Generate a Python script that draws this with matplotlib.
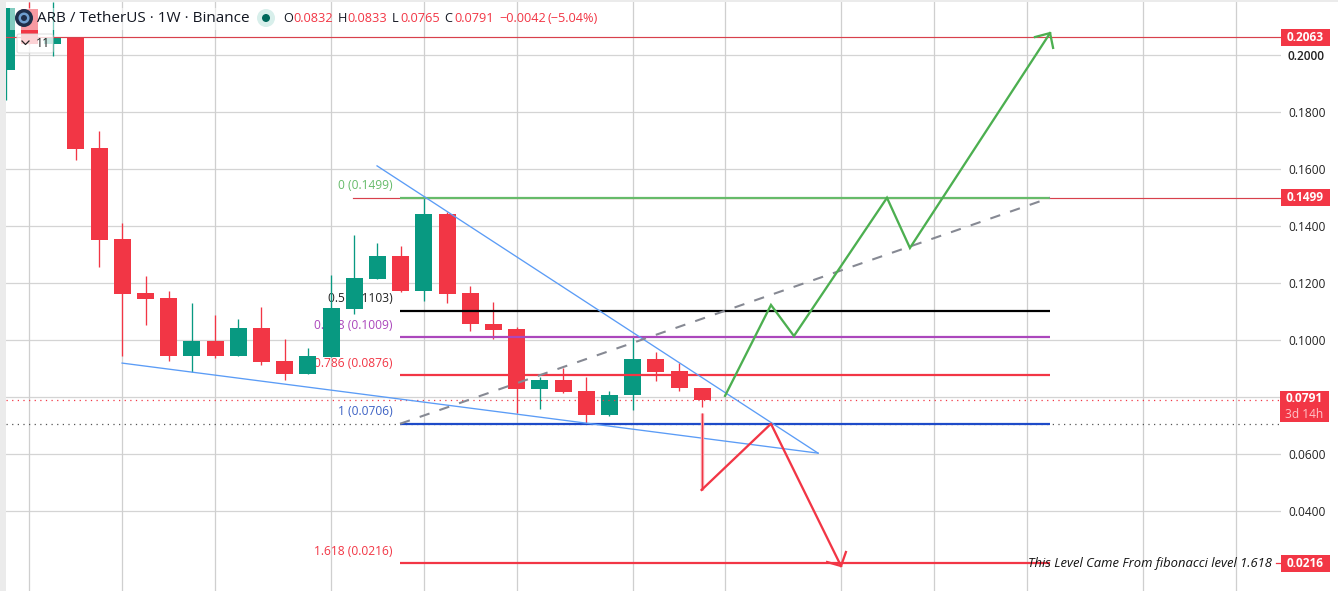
import matplotlib
matplotlib.use("Agg")
import matplotlib.pyplot as plt
from matplotlib.patches import Rectangle, Circle, FancyBboxPatch

plt.rcParams['font.family'] = ['Open Sans', 'DejaVu Sans']

# weekly candles
opens = [.1947, .2161, .2039, .2063, .1674, .1354, .1165, .1147, .0944, .0996, .0944,
         .1042, .0926, .0881, .0940, .1109, .1214, .1295, .1172, .1442, .1165, .1057,
         .1039, .0828, .0860, .0821, .0737, .0807, .0933, .0891, .0832]
highs = [.2165, .2186, .2186, .2063, .1733, .1411, .1225, .1172, .1130, .1088, .1074,
         .1116, .1004, .0972, .1228, .1368, .1340, .1330, .1505, .1449, .1189, .1133,
         .1046, .0870, .0902, .0870, .0821, .1014, .0958, .0919, .0833]
lows = [.1842, .2039, .1996, .1632, .1256, .0944, .1053, .0926, .0888, .0937, .0944,
        .0912, .0860, .0881, .0940, .1091, .1214, .1168, .1137, .1130, .1032, .1004,
        .0744, .0758, .0814, .0705, .0733, .0754, .0856, .0821, .0765]
closes = [.2165, .2039, .2063, .1670, .1351, .1162, .1144, .0944, .0996, .0944, .1042,
          .0923, .0881, .0944, .1112, .1218, .1295, .1172, .1442, .1161, .1057, .1035,
          .0828, .0860, .0818, .0737, .0807, .0933, .0888, .0832, .0791]

price_ticks = [.2000, .1800, .1600, .1400, .1200, .1000, .0800, .0600, .0400]
# the 0.0800 label is hidden behind the countdown tag
price_labels = ['0.2000', '0.1800', '0.1600', '0.1400', '0.1200', '0.1000', '', '0.0600', '0.0400']
grid_bars = [1, 5, 9, 14, 18, 22, 27, 31, 36, 40, 44, 49, 53]

fib_levels = [.1499, .1103, .1009, .0876, .0706, .0216]
fib_names = ['0', '0.5', '0.618', '0.786', '1', '1.618']
fib_colors = ['#66bb6a', '#000000', '#ab47bc', '#f23645', '#1e4bc8', '#f23645']
fib_text_colors = ['#66bb6a', '#222222', '#ab47bc', '#f23645', '#3d62c4', '#f23645']
fib_start = 16.97
fib_end = 44.99

tag_prices = [.2063, .1499, .0216]
tag_texts = ['0.2063', '0.1499', '0.0216']

# trend lines and the hand drawn paths (bar number, price)
wedge_top_x, wedge_top_y = [15.98, 34.99], [.1611, .0603]
wedge_low_x, wedge_low_y = [4.99, 34.99], [.0919, .0603]
dash_x, dash_y = [fib_start, fib_end], [.0706, .1499]
up_x = [30.98, 32.96, 33.95, 37.96, 38.95, 44.99]
up_y = [.0804, .1123, .1014, .1499, .1323, .2077]
up_head_x = [44.34, 44.99, 45.12]
up_head_y = [.2063, .2077, .2025]
down_x = [29.97, 29.97, 32.96, 35.98]
down_y = [.0744, .0474, .0706, .0207]
down_head_x = [35.38, 35.98, 36.19]
down_head_y = [.0221, .0207, .0256]

RED = '#f23645'
GREEN = '#089981'
W, H = 1338, 591


def px_x(p):
    return (p - 6.3) / 23.2


def px_y(p):
    return .2 - (p - 55) / 2850


fig = plt.figure(figsize=(W / 100, H / 100), dpi=100, facecolor='white')
ax = fig.add_axes([6 / W, 0, (1281 - 6) / W, (H - 2) / H])
ax.set_xlim(px_x(6), px_x(1281))
ax.set_ylim(px_y(591), px_y(2))
for s in ax.spines.values():
    s.set_visible(False)

ax.set_xticks([])
ax.yaxis.tick_right()
ax.set_yticks(price_ticks)
ax.set_yticklabels(price_labels, fontsize=8.6, color='#222222')
ax.tick_params(axis='y', length=0, pad=5)
ax.get_yticklabels()[0].set_fontweight('semibold')

for t in price_ticks:
    ax.axhline(t, color='#d4d4d4', lw=0.9, zorder=1)
for b in grid_bars:
    ax.axvline(b, color='#cfcfcf', lw=0.9, zorder=1)

# fib labels sit under the candles
for lv, nm, tc in zip(fib_levels, fib_names, fib_text_colors):
    ax.annotate('%s (%.4f)' % (nm, lv), (fib_start, lv), xytext=(-5.5, 8.6),
                textcoords='offset points', ha='right', va='center',
                fontsize=8.65, color=tc, zorder=2)

# candles
for i in range(len(opens)):
    c = GREEN if closes[i] >= opens[i] else RED
    ax.vlines(i, lows[i], highs[i], color=c, lw=0.95, zorder=3)
    ax.bar(i, abs(closes[i] - opens[i]), bottom=min(opens[i], closes[i]), width=0.735,
           color=c, lw=0, zorder=3)

# price lines
ax.axhline(.2063, color='#d8404c', lw=0.85, zorder=4)
ax.plot([px_x(353), px_x(1281)], [.1499, .1499], color='#d8404c', lw=0.85, zorder=4)
ax.axhline(.0791, color=RED, lw=0.9, ls=(0, (1, 3.5)), zorder=4)
ax.axhline(.0706, color='#555555', lw=0.9, ls=(0, (1, 3.5)), zorder=4)
ax.plot([px_x(1276), px_x(1281)], [.0216, .0216], color=RED, lw=0.9, zorder=4)

for lv, col in zip(fib_levels, fib_colors):
    ax.plot([fib_start, fib_end], [lv, lv], color=col, lw=1.6, zorder=5,
            solid_capstyle='butt')

ax.plot(wedge_top_x, wedge_top_y, color='#5b9cf6', lw=0.95, zorder=6)
ax.plot(wedge_low_x, wedge_low_y, color='#5b9cf6', lw=0.95, zorder=6)
ax.plot(dash_x, dash_y, color='#868993', lw=1.5, ls=(0, (5, 5)), zorder=6)

ax.plot(up_x, up_y, color='#4caf50', lw=1.65, zorder=7, solid_joinstyle='miter')
ax.plot(up_head_x, up_head_y, color='#4caf50', lw=1.65, zorder=7)
ax.plot(down_x[:2], down_y[:2], color='#f7a0a8', lw=2.4, zorder=7, solid_capstyle='butt')
ax.plot(down_x[:2], down_y[:2], color=RED, lw=0.8, zorder=7, solid_capstyle='butt')
ax.plot(down_x[1:], down_y[1:], color=RED, lw=1.65, zorder=7)
ax.plot(down_head_x, down_head_y, color=RED, lw=1.65, zorder=7)

ax.text(px_x(1272), .0216, 'This Level Came From fibonacci level 1.618', ha='right',
        va='center', fontsize=9.4, style='italic', color='#111111', zorder=8)

# price scale tags
tag_w = 49 / 1275
for lv, txt in zip(tag_prices, tag_texts):
    ax.add_patch(Rectangle((1.0, lv - 8.5 / 2850), tag_w, 17 / 2850, transform=ax.get_yaxis_transform(),
                           fc=RED, lw=0, clip_on=False, zorder=10))
    ax.text(1.0 + tag_w / 2, lv, txt, transform=ax.get_yaxis_transform(), ha='center', va='center',
            fontsize=8.6, fontweight='bold', color='white', clip_on=False, zorder=11)

# chrome on top: legend row, button, strips, all in screen pixels
top = fig.add_axes([0, 0, 1, 1], facecolor='none')
top.set_xlim(0, W)
top.set_ylim(H, 0)
top.axis('off')

top.add_patch(Rectangle((0, 0), W, 2, fc='#ebebeb', lw=0))
top.add_patch(Rectangle((0, 0), 6, H, fc='#ebebeb', lw=0))
top.add_patch(Rectangle((10, 8), 245, 22, fc='white', alpha=0.5, lw=0))
top.add_patch(FancyBboxPatch((17, 34), 36, 19, boxstyle='round,pad=0,rounding_size=2',
                             fc='white', ec='#d8d8d8', lw=0.8, alpha=0.78))
top.plot([22, 25.5, 29], [41, 44.5, 41], color='#222222', lw=0.9)
top.text(36, 43.5, '11', fontsize=8.8, color='#222222', va='center')

top.add_patch(Circle((24, 18), 9, fc='#1f2f4a', lw=0))
top.add_patch(Circle((24, 18), 5.5, fc='#6f9fd0', lw=0))
top.add_patch(Circle((24, 18), 3, fc='#1f2f4a', lw=0))
top.text(37, 18.5, 'ARB / TetherUS · 1W · Binance', fontsize=11, color='#131722', va='center')
top.add_patch(Circle((266, 18), 9, fc='#d8efeb', lw=0))
top.add_patch(Circle((266, 18), 4, fc='#00695c', lw=0))

legend_items = [(283, 'O', '#131722'), (293, '0.0832', RED), (338, 'H', '#131722'),
                (347, '0.0833', RED), (392, 'L', '#131722'), (400, '0.0765', RED),
                (444, 'C', '#131722'), (454, '0.0791', RED), (499, '\u22120.0042', RED),
                (548, '(\u22125.04%)', RED)]
for x, s, c in legend_items:
    top.text(x, 18.5, s, fontsize=9.2, color=c, va='center')

# countdown tag
top.add_patch(Rectangle((1280, 391), 49, 31, fc=RED, lw=0))
top.text(1304.5, 399, '0.0791', fontsize=8.6, fontweight='bold', color='white',
         ha='center', va='center')
top.text(1304.5, 414, '3d 14h', fontsize=8.6, color='#ffc4c9', ha='center', va='center')

fig.savefig('out.png', dpi=100)
